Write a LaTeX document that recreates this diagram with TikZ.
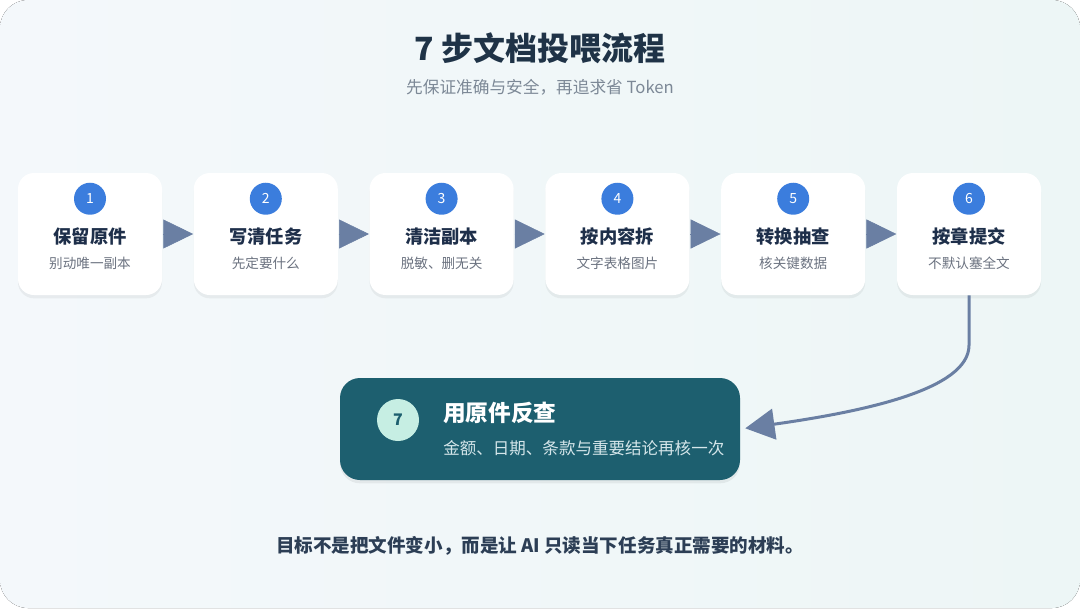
\documentclass[tikz,border=0pt]{standalone}
\usepackage{fontspec}
\setmainfont{Noto Sans CJK SC}
\usetikzlibrary{positioning,arrows.meta,shadows}

\definecolor{bgA}{HTML}{F4F8FB}
\definecolor{bgB}{HTML}{EDF6F6}
\definecolor{numblue}{HTML}{3B7DDD}
\definecolor{ttlcol}{HTML}{1E2F4A}
\definecolor{subcol}{HTML}{6B7280}
\definecolor{arrowc}{HTML}{6A7FA3}
\definecolor{tealbox}{HTML}{1D5F6F}
\definecolor{mint}{HTML}{C6EEE3}
\definecolor{subseven}{HTML}{D5E6EA}
\definecolor{headcol}{HTML}{1F3347}
\definecolor{headsub}{HTML}{7C8896}
\definecolor{footcol}{HTML}{2C3E55}

\begin{document}
\begin{tikzpicture}[
  x=0.75pt, y=0.75pt,
  node distance=23.45pt,
  card/.style={fill=white, rounded corners=12pt, minimum width=108pt, minimum height=91.5pt,
               drop shadow={shadow xshift=0pt, shadow yshift=-2.5pt, opacity=0.05, fill=black}},
  num/.style={circle, fill=numblue, text=white, minimum size=24pt, inner sep=0pt,
              font=\fontsize{10.5pt}{12pt}\selectfont},
  ttl/.style={text=ttlcol, inner sep=0pt, font=\fontsize{13.7pt}{16pt}\selectfont\bfseries},
  sub/.style={text=subcol, inner sep=0pt, font=\fontsize{10.2pt}{12pt}\selectfont},
  stepar/.style={draw=arrowc, line width=0.4pt, shorten <=0.5pt, shorten >=0.3pt,
                 -{Triangle[length=22.4pt, width=21.75pt]}},
  final/.style={fill=tealbox, rounded corners=15pt, minimum width=300pt, minimum height=76.5pt,
                drop shadow={shadow xshift=0pt, shadow yshift=-2.5pt, opacity=0.06, fill=black}},
  numseven/.style={circle, fill=mint, text=tealbox, minimum size=31.5pt, inner sep=0pt,
                   font=\fontsize{12pt}{14pt}\selectfont\bfseries},
  ttlseven/.style={text=white, inner sep=0pt, anchor=west, font=\fontsize{17pt}{20pt}\selectfont\bfseries},
  subseven/.style={text=subseven, inner sep=0pt, anchor=west, font=\fontsize{12.4pt}{14pt}\selectfont},
  flow/.style={draw=arrowc, line width=2.25pt, shorten >=3.75pt,
               -{Triangle[length=22pt, width=23pt]}},
  head/.style={text=headcol, font=\fontsize{24pt}{28pt}\selectfont\bfseries},
  headsub/.style={text=headsub, font=\fontsize{12.5pt}{15pt}\selectfont},
  foot/.style={text=footcol, font=\fontsize{13.9pt}{16pt}\selectfont\bfseries}]
  % background
  \useasboundingbox (0,0) rectangle (1080,-608);
  \fill[white] (0,0) rectangle (1080,-608);
  \fill[left color=bgA, right color=bgB, rounded corners=21pt] (0,0) rectangle (1080,-608);
  % heading
  \node[head] (title) at (540,-48) {7 步文档投喂流程};
  \node[headsub] (subtitle) at (540,-87) {先保证准确与安全，再追求省 Token};
  % step cards
  \node[card] (c1) at (90,-234) {};
  \node[card, right=of c1] (c2) {};
  \node[card, right=of c2] (c3) {};
  \node[card, right=of c3] (c4) {};
  \node[card, right=of c4] (c5) {};
  \node[card, right=of c5] (c6) {};
  \foreach \i/\t/\s in {1/保留原件/别动唯一副本, 2/写清任务/先定要什么, 3/清洁副本/脱敏、删无关,
                        4/按内容拆/文字表格图片, 5/转换抽查/核关键数据, 6/按章提交/不默认塞全文}{
    \node[num] (n\i) at ([yshift=-19.5pt]c\i.north) {\i};
    \node[ttl] (t\i) at ([yshift=-48pt]c\i.north) {\t};
    \node[sub] (s\i) at ([yshift=-68.25pt]c\i.north) {\s};
  }
  % arrows between cards
  \foreach \a/\b in {c1/c2, c2/c3, c3/c4, c4/c5, c5/c6}
    \draw[stepar] (\a) -- (\b);
  % final check
  \node[final] (r7) at (540,-429) {};
  \node[numseven] (n7) at (398,-420) {7};
  \node[ttlseven] (t7) at (443,-413) {用原件反查};
  \node[subseven] (s7) at (443,-448) {金额、日期、条款与重要结论再核一次};
  \draw[flow] (c6.south) -- ++(0,-50) .. controls +(0,-45) and (860,-412) .. (r7.east);
  % footer
  \node[foot] (note) at (540,-546) {目标不是把文件变小，而是让 AI 只读当下任务真正需要的材料。};
\end{tikzpicture}
\end{document}
